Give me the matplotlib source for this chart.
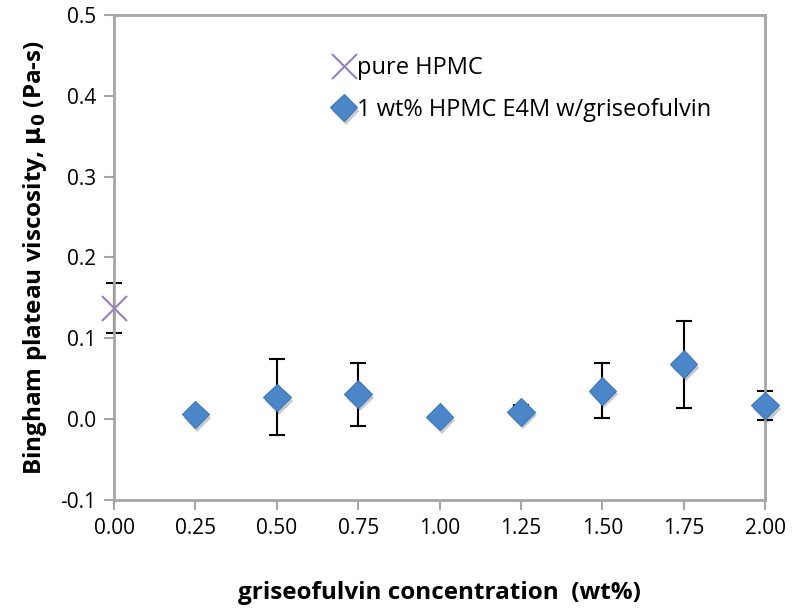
"""Bingham plateau viscosity vs griseofulvin concentration."""

import matplotlib.pyplot as plt
import matplotlib.patheffects as pe

# pure HPMC reference point
pure_x = [0.0]
pure_y = [0.137]
pure_err = [0.031]

# 1 wt% HPMC E4M with griseofulvin
conc = [0.25, 0.50, 0.75, 1.00, 1.25, 1.50, 1.75, 2.00]
visc = [0.006, 0.027, 0.031, 0.003, 0.009, 0.035, 0.068, 0.017]
visc_err = [0.0, 0.047, 0.039, 0.0, 0.008, 0.034, 0.054, 0.018]

xticks = [0.0, 0.25, 0.5, 0.75, 1.0, 1.25, 1.5, 1.75, 2.0]
yticks = [-0.1, 0.0, 0.1, 0.2, 0.3, 0.4, 0.5]

grey = "#a6a6a6"
blue = "#4a86c8"
purple = "#9582b8"
font = ["Open Sans", "DejaVu Sans"]

fig = plt.figure(figsize=(7.93, 6.12), dpi=100)
ax = fig.add_axes([0.1438, 0.183, 0.8209, 0.7925])

for xs, ys, es in [(pure_x, pure_y, pure_err), (conc, visc, visc_err)]:
    eb = ax.errorbar(xs, ys, yerr=es, fmt="none", ecolor="black",
                     elinewidth=1.5, capsize=6, capthick=1.5, zorder=2)
    for art in eb.lines[1] + eb.lines[2]:
        art.set_clip_on(False)

ax.plot(pure_x, pure_y, linestyle="none", marker="x", markersize=18,
        markeredgewidth=1.5, color=purple, label="pure HPMC", zorder=3,
        clip_on=False)
shadow = [pe.SimplePatchShadow(offset=(1.5, -2.5), alpha=0.25), pe.Normal()]
ax.plot(conc, visc, linestyle="none", marker="D", markersize=14,
        color=blue, markeredgecolor="#3f78b8", markeredgewidth=0.8,
        label="1 wt% HPMC E4M w/griseofulvin", zorder=3,
        path_effects=shadow, clip_on=False)

ax.set_xlim(0, 2.0)
ax.set_ylim(-0.1, 0.5)
ax.set_xticks(xticks, [f"{v:.2f}" for v in xticks])
ax.set_yticks(yticks, [f"{v:.1f}" for v in yticks])

for s in ax.spines.values():
    s.set_color(grey)
    s.set_linewidth(2)
ax.tick_params(direction="out", length=7, width=1.5, color=grey,
               labelsize=15, pad=6)
for lab in ax.get_xticklabels() + ax.get_yticklabels():
    lab.set_family(font)

ax.set_xlabel("griseofulvin concentration  (wt%)", fontsize=17.5,
              fontweight="bold", family=font, labelpad=30)
ax.set_ylabel("Bingham plateau viscosity, $\\mathbf{\\mu_0}$ (Pa-s)",
              fontsize=17.5, fontweight="bold", family=font, labelpad=8)

ax.legend(loc="upper left", bbox_to_anchor=(0.32, 0.935), frameon=False,
          prop={"family": font, "size": 17}, handletextpad=0.05,
          handlelength=1.0, labelspacing=0.75, borderaxespad=0)

fig.savefig("out.png", dpi=100)
